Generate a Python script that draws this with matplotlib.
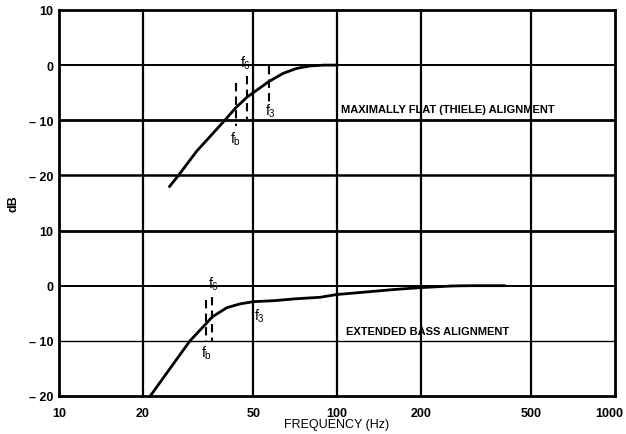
import matplotlib.pyplot as plt
import matplotlib.transforms as mtransforms
import numpy as np

plt.rcParams['font.family'] = ['Liberation Sans', 'DejaVu Sans']

# maximally flat (Thiele) alignment response, Hz / dB
thiele_f = [25, 26.9, 31.3, 35.9, 39.5, 43.3, 47.5, 50, 56.8, 64, 71.6, 80, 90, 100]
thiele_db = [-22, -20, -15.6, -12.3, -10, -7.7, -5.8, -5.0, -3.0, -1.5, -0.6, -0.15, 0, 0]

# extended bass alignment response
ext_f = [21.1, 25.1, 29.6, 33.8, 35.5, 40.1, 44.8, 50, 60, 70, 87, 100, 130, 160, 200, 260, 300, 400]
ext_db = [-20.3, -15, -10, -6.9, -5.7, -4.0, -3.3, -2.9, -2.7, -2.4, -2.1, -1.6, -1.1, -0.7, -0.35, -0.05, 0, 0]

# marker frequencies (fb, f6, f3) and dashed line spans
thiele_marks = {'b': (43.3, -3.2, -11.0), '6': (47.5, -2.0, -9.8), '3': (56.8, -0.2, -7.6)}
ext_marks = {'b': (33.8, -2.6, -10.0), '6': (35.5, -2.0, -10.0)}

x_ticks = [10, 20, 50, 100, 200, 500, 1000]
y_labels = ['10', '0', '\u2013 10', '\u2013 20', '10', '0', '\u2013 10', '\u2013 20']

lower_offset = -40  # lower panel drawn 40 dB below the upper one

fig = plt.figure(figsize=(6.26, 4.35), dpi=100)
ax = fig.add_axes([0.0942, 0.0874, 0.8882, 0.8874])
ax.set_xscale('log')
ax.set_xlim(10, 1000)
ax.set_ylim(-60, 10)

# grid
for f in x_ticks[1:-1]:
    ax.axvline(f, color='black', lw=1.6, zorder=1)
for y, lw in zip([0, -10, -20, -30, -40, -50], [1.4, 2.0, 1.8, 2.0, 1.4, 1.0]):
    ax.axhline(y, color='black', lw=lw, zorder=1)
for s in ax.spines.values():
    s.set_linewidth(2.0)

ax.plot(thiele_f, thiele_db, color='black', lw=2.0, zorder=3)
ax.plot(ext_f, np.array(ext_db) + lower_offset, color='black', lw=2.0, zorder=3)

for f, y0, y1 in thiele_marks.values():
    ax.plot([f, f], [y0, y1], color='black', lw=1.5, dashes=(4, 2.5), zorder=2)
for f, y0, y1 in ext_marks.values():
    ax.plot([f, f], [y0 + lower_offset, y1 + lower_offset], color='black', lw=1.5,
            dashes=(4, 2.5), zorder=2)

tk = dict(fontsize=10, ha='center', va='center', zorder=4)
ax.text(47.0, 0.5, r'$\mathregular{f_6}$', **tk)
ax.text(43.3, -13.2, r'$\mathregular{f_b}$', **tk)
ax.text(57.5, -8.2, r'$\mathregular{f_3}$', **tk)
ax.text(36.0, lower_offset + 0.5, r'$\mathregular{f_6}$', **tk)
ax.text(33.8, lower_offset - 12.0, r'$\mathregular{f_b}$', **tk)
ax.text(52.5, lower_offset - 5.3, r'$\mathregular{f_3}$', **tk)

ax.text(103.5, -8.0, 'MAXIMALLY FLAT (THIELE) ALIGNMENT', fontsize=8, fontweight='bold',
        ha='left', va='center')
ax.text(107.5, lower_offset - 8.3, 'EXTENDED BASS ALIGNMENT', fontsize=8, fontweight='bold',
        ha='left', va='center')

ax.set_xticks(x_ticks)
ax.set_xticklabels([str(v) for v in x_ticks])
ax.xaxis.set_minor_locator(plt.NullLocator())
ax.set_yticks([10, 0, -10, -20, -30, -40, -50, -60])
ax.set_yticklabels(y_labels)
ax.tick_params(axis='x', length=0, labelsize=9, pad=8)
ax.tick_params(axis='y', length=0, labelsize=9, pad=4)
for lab in ax.get_xticklabels() + ax.get_yticklabels():
    lab.set_fontweight('bold')

# keep the last frequency label inside the figure edge
last = ax.get_xticklabels()[-1]
last.set_transform(last.get_transform() +
                   mtransforms.ScaledTranslation(-4 / 72, 0, fig.dpi_scale_trans))

ax.set_xlabel('FREQUENCY (Hz)', fontsize=9)
ax.xaxis.set_label_coords(0.5, -0.058)
ax.set_ylabel('dB', fontsize=9, fontweight='bold', labelpad=7)

plt.savefig('out.png', dpi=100)
